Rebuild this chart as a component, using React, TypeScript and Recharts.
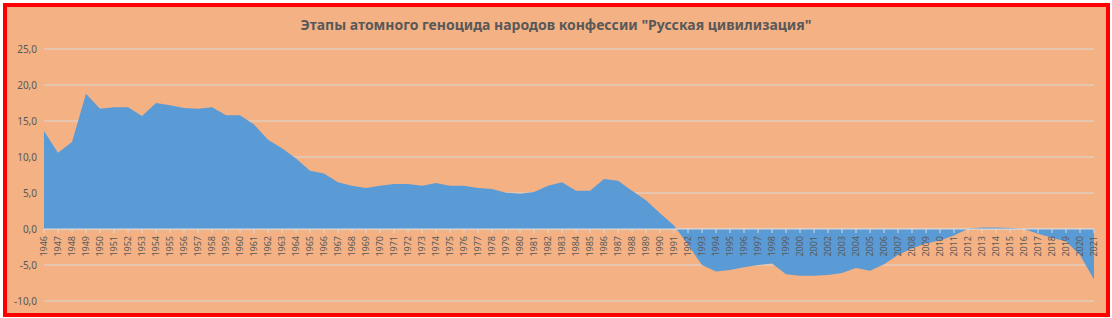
import React from "react";
import { AreaChart, Area, XAxis, YAxis, CartesianGrid, ReferenceLine } from "recharts";

const years = [
  "1946", "1947", "1948", "1949", "1950", "1951", "1952", "1953", "1954", "1955",
  "1956", "1957", "1958", "1959", "1960", "1961", "1962", "1963", "1964", "1965",
  "1966", "1967", "1968", "1969", "1970", "1971", "1972", "1973", "1974", "1975",
  "1976", "1977", "1978", "1979", "1980", "1981", "1982", "1983", "1984", "1985",
  "1986", "1987", "1988", "1989", "1990", "1991", "1992", "1993", "1994", "1995",
  "1996", "1997", "1998", "1999", "2000", "2001", "2002", "2003", "2004", "2005",
  "2006", "2007", "2008", "2009", "2010", "2011", "2012", "2013", "2014", "2015",
  "2016", "2017", "2018", "2019", "2020", "2021",
];

const values = [
  13.6, 10.6, 12.1, 18.8, 16.7, 16.9, 16.9, 15.7, 17.5, 17.2,
  16.8, 16.7, 16.9, 15.8, 15.8, 14.5, 12.4, 11.2, 9.8, 8.1,
  7.7, 6.5, 6.0, 5.7, 6.0, 6.25, 6.25, 6.0, 6.4, 6.0,
  6.0, 5.7, 5.55, 5.05, 4.9, 5.15, 6.0, 6.5, 5.3, 5.3,
  6.95, 6.7, 5.3, 4.0, 2.2, 0.5, -2.2, -5.0, -5.9, -5.7,
  -5.3, -5.0, -4.8, -6.3, -6.5, -6.5, -6.4, -6.1, -5.4, -5.8,
  -4.9, -3.6, -2.7, -2.0, -1.6, -0.9, 0.05, 0.2, 0.2, 0.15,
  0.0, -0.65, -1.2, -1.75, -3.6, -7.0,
];

const yTicks = [-10, -5, 0, 5, 10, 15, 20, 25];

const title = 'Этапы атомного геноцида народов конфессии "Русская цивилизация"';

const data = years.map((y, i) => ({ year: y, value: values[i] }));

// layout
const W = 1112;
const H = 318;
const TOP = 49;
const BOTTOM = 17;
const PLOT_H = H - TOP - BOTTOM;
const Y_MIN = -10;
const Y_MAX = 25;
const ZERO_Y = TOP + (PLOT_H * Y_MAX) / (Y_MAX - Y_MIN);

const textColor = "#595959";
const gridColor = "#D9D9D9";

const fmt = (v: number) => v.toFixed(1).replace(".", ",");

function YearTick(props: any) {
  const { x, payload } = props;
  return (
    <g>
      <line x1={x} y1={ZERO_Y} x2={x} y2={ZERO_Y + 4} stroke={gridColor} />
      <text
        x={x}
        y={ZERO_Y + 7}
        transform={`rotate(-90 ${x} ${ZERO_Y + 7})`}
        textAnchor="end"
        dy="0.35em"
        fill={textColor}
        fontSize={9}
        fontFamily="Noto Sans"
      >
        {payload.value}
      </text>
    </g>
  );
}

export default function App() {
  return (
    <div style={{ position: "relative", width: W, height: H, background: "#fff" }}>
      <style>{"body{margin:0}"}</style>
      <div
        style={{
          position: "absolute",
          left: 3,
          top: 3,
          width: 1107,
          height: 314,
          boxSizing: "border-box",
          border: "4px solid #FF0000",
          background: "#F4B183",
        }}
      />
      <div
        style={{
          position: "absolute",
          left: 0,
          top: 15,
          width: W,
          textAlign: "center",
          fontFamily: "Noto Sans",
          fontWeight: 700,
          fontSize: 14,
          color: textColor,
        }}
      >
        {title}
      </div>
      <div style={{ position: "absolute", left: 0, top: 0 }}>
        <AreaChart width={W} height={H} data={data} margin={{ top: TOP, right: 18, bottom: BOTTOM - 1, left: 0 }}>
          <CartesianGrid vertical={false} stroke={gridColor} />
          <XAxis
            dataKey="year"
            interval={0}
            height={1}
            axisLine={false}
            tickLine={false}
            tick={<YearTick />}
          />
          <YAxis
            width={44}
            domain={[Y_MIN, Y_MAX]}
            ticks={yTicks}
            tickFormatter={fmt}
            axisLine={false}
            tickLine={false}
            tickSize={0}
            tickMargin={7}
            tick={{ fill: textColor, fontSize: 10, fontFamily: "Noto Sans" }}
          />
          <Area
            type="linear"
            dataKey="value"
            baseValue={0}
            stroke="none"
            fill="#5B9BD5"
            fillOpacity={1}
            isAnimationActive={false}
          />
          <ReferenceLine y={0} stroke={gridColor} />
        </AreaChart>
      </div>
    </div>
  );
}
